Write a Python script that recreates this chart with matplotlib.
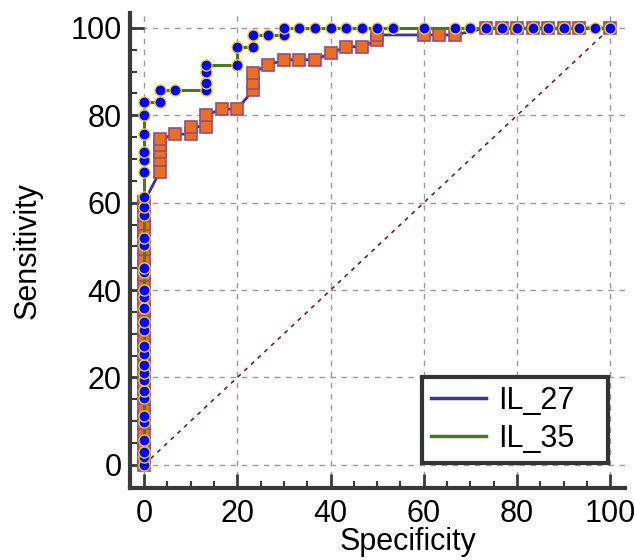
"""
Courbes ROC IL_27 / IL_35 (style MedCalc)
Sortie : out.png
"""
import matplotlib
matplotlib.use("Agg")
import matplotlib.pyplot as plt
from matplotlib.lines import Line2D
from matplotlib.ticker import MultipleLocator

plt.rcParams["font.family"] = ["Liberation Sans", "DejaVu Sans"]

# %% Donnees
il27_spec = [0, 0, 0, 0, 0, 0, 0, 0, 0, 0, 0, 0, 0, 0, 0, 0, 0, 0, 0, 0, 0, 0,
             0, 0, 0, 0, 0, 0, 0, 0, 0, 0,
             3.33, 3.33, 3.33, 3.33, 3.33, 6.67, 10, 10, 13.33, 13.33, 16.67, 20,
             23.33, 23.33, 23.33, 26.67, 30, 33.33, 36.67, 40, 43.33, 46.67, 50, 50,
             60, 63.33, 66.67, 73.33, 76.67, 80, 83.33, 86.67, 90, 93.33, 100]
il27_sens = [0, 1.5, 3.6, 5.1, 7.3, 9.6, 11, 13.1, 15.2, 17.4, 18.8, 21, 23.2, 25.3,
             27.5, 29, 31.2, 33.4, 35.5, 37.7, 39.1, 41.3, 43.5, 45.6, 47.1, 49.3,
             51.4, 53.6, 55.1, 57.2, 59.4, 60.1,
             67, 69.8, 71.7, 73.2, 74.5, 75.7, 75.7, 77.4, 77.4, 80.1, 81.4, 81.4,
             85.7, 87.3, 89.8, 91.5, 92.7, 92.7, 92.7, 94.2, 95.7, 95.7, 97.2, 98.4,
             98.4, 98.4, 98.4, 100, 100, 100, 100, 100, 100, 100, 100]

il35_spec = [0, 0, 0, 0, 0, 0, 0, 0, 0, 0, 0, 0, 0, 0, 0, 0, 0, 0, 0, 0, 0, 0,
             0, 0, 0, 0, 0, 0, 0, 0, 0,
             3.33, 3.33, 6.67, 13.33, 13.33, 13.33, 13.33, 20, 20, 23.33, 23.33,
             26.67, 30, 30, 33.33, 36.67, 40, 43.33, 46.67, 50, 53.33, 60, 66.67,
             70, 73.33, 76.67, 80, 83.33, 86.67, 90, 93.33, 96.67, 100]
il35_sens = [0, 1.9, 3, 5.7, 9.9, 11.1, 15.3, 16.8, 19.5, 21, 22.9, 25.4, 27.1, 30.9,
             32.8, 35.9, 38.5, 40, 44.2, 45, 50.3, 51.9, 57.2, 59.1, 61.2, 67.1,
             69.8, 71.5, 75.7, 80, 83,
             83, 85.7, 85.7, 85.7, 87.3, 90, 91.5, 91.5, 95.6, 95.6, 98.4,
             98.4, 98.4, 100, 100, 100, 100, 100, 100, 100, 100, 100, 100,
             100, 100, 100, 100, 100, 100, 100, 100, 100, 100]

ref_line = [0, 100]
tick_values = [0, 20, 40, 60, 80, 100]

# %% Figure
fig = plt.figure(figsize=(6.35, 5.6), dpi=100)
ax = fig.add_axes([0.2047, 0.1286, 0.78, 0.848])

ax.grid(True, which="major", color="#9a9a9a", linestyle=(0, (4, 4)), linewidth=1)
ax.set_axisbelow(True)

ax.plot(ref_line, ref_line, color="#7a1f1f", linestyle=(0, (2.5, 3)), linewidth=1.2)

ax.plot(il27_spec, il27_sens, color="#35359a", linewidth=2,
        marker="s", markersize=8, markerfacecolor="#e8701f",
        markeredgecolor="#9a4a80", markeredgewidth=1.2)
ax.plot(il35_spec, il35_sens, color="#4b7a1e", linewidth=2.2,
        marker="o", markersize=8, markerfacecolor="#0000ff",
        markeredgecolor="#f2d21b", markeredgewidth=1.0)

ax.set_xlim(-3, 103.2)
ax.set_ylim(-5.3, 103.4)
ax.set_xticks(tick_values)
ax.set_yticks(tick_values)
ax.xaxis.set_minor_locator(MultipleLocator(5))
ax.yaxis.set_minor_locator(MultipleLocator(5))

for side in ["top", "right"]:
    ax.spines[side].set_visible(False)
for side in ["left", "bottom"]:
    ax.spines[side].set_linewidth(3)
    ax.spines[side].set_color("#3a3a3a")

ax.tick_params(which="major", direction="in", length=10, width=2,
               color="#3a3a3a", labelsize=22)
ax.tick_params(axis="x", which="major", pad=8)
ax.tick_params(axis="y", which="major", pad=6)
ax.tick_params(which="minor", direction="in", length=5, width=1.5,
               color="#3a3a3a")

ax.set_ylabel("Sensitivity", fontsize=22)
ax.yaxis.set_label_coords(-0.176, 0.5)
ax.set_xlabel("Specificity", fontsize=22)
ax.xaxis.set_label_coords(0.562, -0.083)

handles = [Line2D([], [], color="#35359a", linewidth=2.5),
           Line2D([], [], color="#4b7a1e", linewidth=2.5)]
leg = ax.legend(handles, ["IL_27", "IL_35"], loc="lower left",
                bbox_to_anchor=(0.59, 0.053, 0.376, 0.18), mode="expand",
                fontsize=22, frameon=True, fancybox=False, framealpha=1,
                edgecolor="#333333", handlelength=1.8, handletextpad=0.4,
                labelspacing=0.25, borderpad=0.3, borderaxespad=0)
leg.get_frame().set_linewidth(3)

fig.savefig("out.png", dpi=100)
